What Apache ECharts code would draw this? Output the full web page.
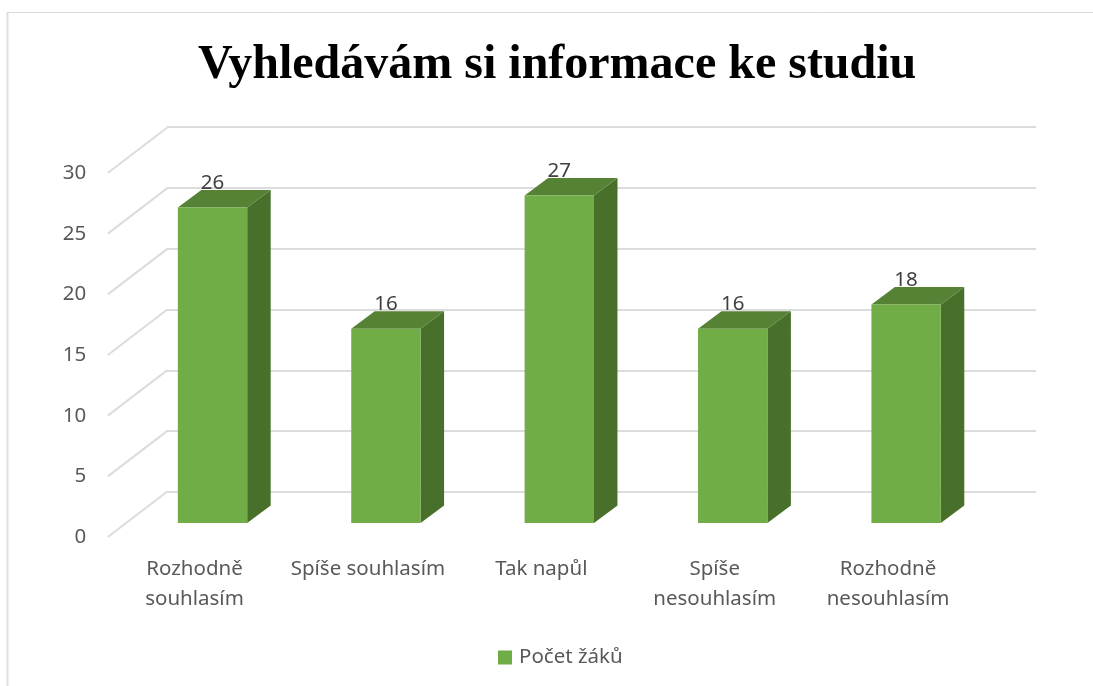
<!DOCTYPE html>
<html><head><meta charset="utf-8">
<style>html,body{margin:0;padding:0;background:#fff}#c{width:1093px;height:686px}</style>
<script src="https://cdn.jsdelivr.net/npm/echarts@6/dist/echarts.min.js"></script>
</head><body><div id="c"></div>
<script>
const titleText = 'Vyhledávám si informace ke studiu';
const seriesName = 'Počet žáků';
const categories = ['Rozhodně\nsouhlasím','Spíše souhlasím','Tak napůl','Spíše\nnesouhlasím','Rozhodně\nnesouhlasím'];
const values = [26,16,27,16,18];
const yTicks = [0,5,10,15,20,25,30];

const FONT = '"Noto Sans"';
const depthX = 23.5, depthY = 17.5, offX = 18, offY = 14;
const chart = echarts.init(document.getElementById('c'));

function renderBar(params, api){
  const idx = api.value(0), v = api.value(1);
  const top = api.coord([idx, v]), base = api.coord([idx, 0]);
  const w = api.size([1,0])[0]*0.4;
  const l = top[0]+offX-w/2, r = l+w, t = top[1]-offY, b = base[1]-offY;
  return {type:'group', children:[
    {type:'polygon', shape:{points:[[r,t],[r+depthX,t-depthY],[r+depthX,b-depthY],[r,b]]}, style:{fill:'#48702b'}},
    {type:'polygon', shape:{points:[[l,t],[l+depthX,t-depthY],[r+depthX,t-depthY],[r,t]]}, style:{fill:'#558235'}},
    {type:'rect', shape:{x:l,y:t,width:w,height:b-t}, style:{fill:'#70ad47'}},
    {type:'text', z2:10, style:{x:(l+r)/2,y:t-24.5,text:String(v),align:'center',verticalAlign:'middle',fill:'#404040',font:'20.5px '+FONT}}
  ]};
}
function renderDiagonal(params, api){
  const p = api.coord([0, api.value(0)]);
  const x = params.coordSys.x;
  return {type:'line', shape:{x1:x,y1:p[1],x2:x+59.5,y2:p[1]-45.5}, style:{stroke:'#dcdcdc',lineWidth:2,fill:null}};
}

chart.setOption({
  animation:false,
  backgroundColor:'#fff',
  title:{text:titleText,left:198,top:42,padding:0,itemGap:0,
    textStyle:{fontFamily:'"Liberation Serif"',fontWeight:'bold',fontSize:48,color:'#000'}},
  legend:{left:498,top:647,itemWidth:14,itemHeight:14,itemGap:5,icon:'rect',padding:0,
    data:[{name:seriesName,itemStyle:{color:'#70ad47'}}],
    textStyle:{fontFamily:FONT,fontSize:20.5,color:'#595959',padding:[0,0,0,2]}},
  grid:[
    {left:107.8,top:173,width:867,bottom:149},
    {left:167,top:127,width:869,bottom:194}
  ],
  xAxis:[
    {type:'category',gridIndex:0,data:categories,axisLine:{show:false},axisTick:{show:false},
      axisLabel:{margin:17,interval:0,lineHeight:30,fontFamily:FONT,fontSize:20.5,color:'#595959'}},
    {type:'category',gridIndex:1,data:categories,show:false}
  ],
  yAxis:[
    {type:'value',gridIndex:0,min:0,max:30,interval:5,axisLine:{show:false},axisTick:{show:false},splitLine:{show:false},
      axisLabel:{margin:21.5,fontFamily:FONT,fontSize:20.5,color:'#595959'}},
    {type:'value',gridIndex:1,min:0,max:30,interval:5,axisLine:{show:false},axisTick:{show:false},axisLabel:{show:false},
      splitLine:{show:true,lineStyle:{color:'#dcdcdc',width:2}}}
  ],
  graphic:[
    {type:'line',shape:{x1:7.5,y1:12,x2:7.5,y2:686},style:{stroke:'#e0e0e0',lineWidth:2}},
    {type:'line',shape:{x1:7,y1:12.5,x2:1093,y2:12.5},style:{stroke:'#d9d9d9',lineWidth:1}}
  ],
  series:[
    {type:'custom',xAxisIndex:0,yAxisIndex:0,silent:true,z:1,data:yTicks.map(v=>[v]),encode:{y:0},renderItem:renderDiagonal},
    {type:'custom',name:seriesName,xAxisIndex:0,yAxisIndex:0,z:3,itemStyle:{color:'#70ad47'},
      data:values.map((v,i)=>[i,v]),encode:{x:0,y:1},renderItem:renderBar}
  ]
});
</script></body></html>
